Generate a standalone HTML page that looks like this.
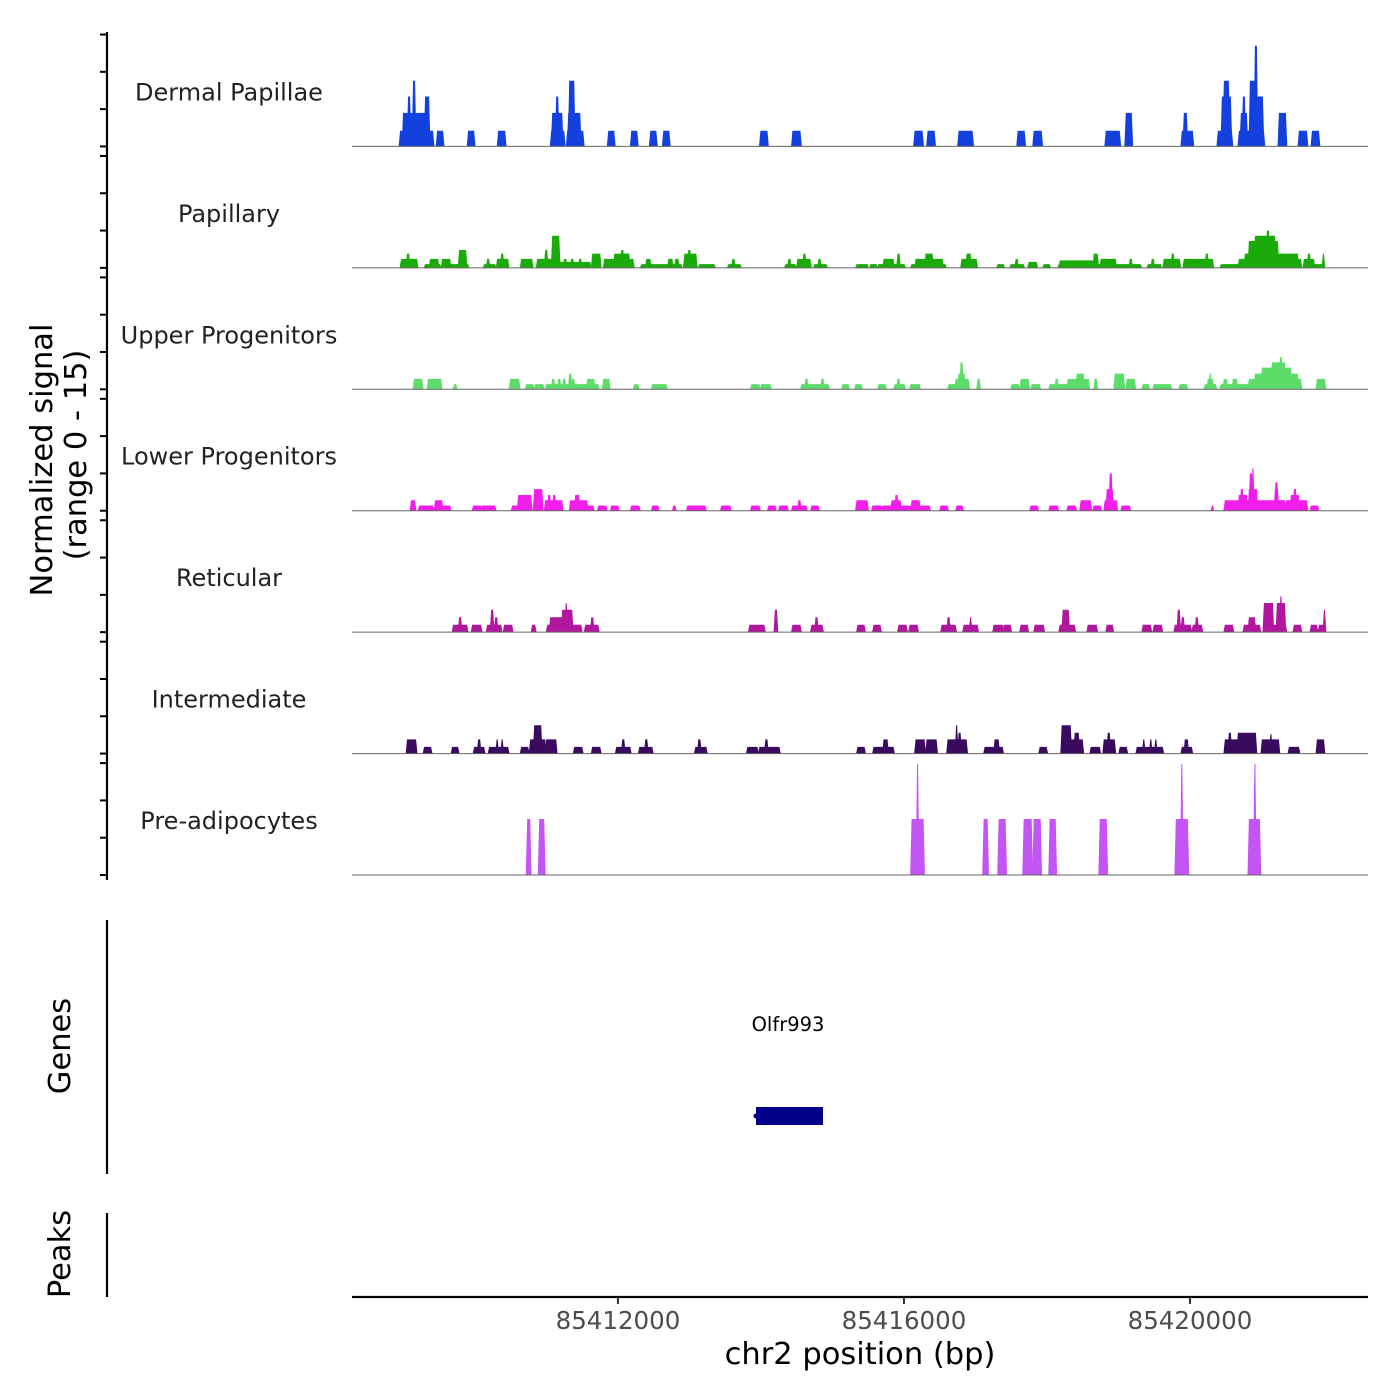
<!DOCTYPE html>
<html><head><meta charset="utf-8"><style>
html,body{margin:0;padding:0;background:#fff;}
svg{display:block;font-family:"DejaVu Sans","Liberation Sans",sans-serif;}
</style></head><body>
<svg id="chart" width="1400" height="1400" viewBox="0 0 1400 1400" xmlns="http://www.w3.org/2000/svg">
<rect width="1400" height="1400" fill="#fff"/>
<g id="tracks"></g>
<g id="axes">
  <line x1="107" y1="32" x2="107" y2="880" stroke="#000" stroke-width="2.2"/>
  <line x1="107" y1="920" x2="107" y2="1174" stroke="#000" stroke-width="2.2"/>
  <line x1="107" y1="1213" x2="107" y2="1297" stroke="#000" stroke-width="2.2"/>
  <text transform="translate(52,460) rotate(-90)" text-anchor="middle" font-size="30.5" fill="#000">Normalized signal</text>
  <text transform="translate(86,455) rotate(-90)" text-anchor="middle" font-size="30.5" fill="#000">(range 0 - 15)</text>
  <text transform="translate(70,1046) rotate(-90)" text-anchor="middle" font-size="30.5" fill="#000">Genes</text>
  <text transform="translate(70,1254) rotate(-90)" text-anchor="middle" font-size="30.5" fill="#000">Peaks</text>
  <line x1="352" y1="1297" x2="1368" y2="1297" stroke="#000" stroke-width="2.2"/>
  <text x="860" y="1364" text-anchor="middle" font-size="30.5" fill="#000">chr2 position (bp)</text>
</g>
<g id="gene">
  <text x="788" y="1031" text-anchor="middle" font-size="19.5" fill="#000">Olfr993</text>
  <rect x="756" y="1107" width="67" height="18" fill="#00008b"/>
  <circle cx="756" cy="1116" r="2.5" fill="#00008b"/>
</g>
</svg>
<script>
const regionStart = 85408280;
const regionEnd = 85422490;
const xTicks = [85412000, 85416000, 85420000];
const yTickValues = [0, 5, 10, 15];
const trackNames = ["Dermal Papillae","Papillary","Upper Progenitors","Lower Progenitors","Reticular","Intermediate","Pre-adipocytes"];
const trackColors = ["#1440dd","#1aaa0a","#5ddc6a","#f01ee8","#b0169e","#3a0a5e","#c455f5"];
// each block: [startOffsetBp, endOffsetBp, normalizedSignal]
const dermal = [[672,1134,2.1],[714,770,4.5],[784,812,6.7],[854,882,8.8],[770,1078,4.5],[1022,1078,6.7],[1190,1274,2.1],[1624,1708,2.1],[2044,2142,2.1],[2786,2968,2.1],[2800,2940,4.5],[2856,2884,6.7],[3010,3234,2.1],[3024,3192,4.5],[3038,3108,8.8],[3584,3668,2.1],[3906,3990,2.1],[4172,4256,2.1],[4354,4438,2.1],[5712,5810,2.1],[6160,6272,2.1],[7868,7980,2.1],[8050,8148,2.1],[8484,8680,2.1],[9310,9408,2.1],[9534,9646,2.1],[10542,10738,2.1],[10822,10906,4.5],[11606,11760,2.1],[11634,11676,4.5],[12110,12306,2.1],[12166,12292,6.7],[12194,12264,8.8],[12404,12754,2.1],[12432,12516,4.5],[12460,12488,6.7],[12572,12740,6.7],[12558,12656,8.8],[12628,12656,13.5],[12964,13062,4.5],[13244,13356,2.1],[13426,13524,2.1]];
const papillary = [[686,910,1.2],[770,798,1.9],[1022,1232,0.5],[1092,1204,1.2],[1260,1484,0.5],[1260,1372,1.2],[1484,1624,0.5],[1498,1596,2.4],[1848,2002,0.5],[1890,1918,1.2],[2030,2184,1.2],[2086,2114,1.9],[2366,2520,1.2],[2590,2800,1.2],[2702,2730,2.4],[2800,2898,4.3],[2898,3332,0.8],[2968,2996,1.2],[3066,3094,1.2],[3178,3206,1.2],[3360,3472,1.9],[3528,3934,1.2],[3668,3878,1.9],[3766,3794,2.4],[4046,4326,0.5],[4116,4172,1.2],[4326,4606,0.5],[4424,4480,1.2],[4522,4564,1.2],[4648,4816,1.9],[4704,4732,2.4],[4858,5068,0.5],[5264,5432,0.5],[5320,5348,1.2],[6062,6202,0.5],[6104,6132,1.2],[6230,6412,1.2],[6314,6342,1.9],[6468,6636,0.5],[6524,6552,1.2],[7056,7210,0.5],[7252,7336,0.5],[7364,7728,0.5],[7434,7574,1.2],[7630,7658,1.9],[7826,8302,0.5],[7882,8260,1.2],[8022,8120,1.9],[8526,8736,1.2],[8596,8652,1.9],[9030,9114,0.5],[9212,9394,0.5],[9282,9310,1.2],[9464,9576,0.8],[9674,9758,0.5],[9884,10766,0.5],[9898,10360,1.0],[10374,10430,1.9],[10472,10682,1.2],[10738,11032,0.5],[10878,10906,1.2],[11130,11312,0.5],[11186,11214,1.2],[11354,11578,1.2],[11466,11494,1.9],[11634,11858,1.2],[11858,12040,1.2],[11942,11970,1.9],[12152,12404,0.5],[12404,13272,1.2],[12488,13230,1.9],[12544,12950,3.6],[12628,12908,4.3],[12796,12824,5.0],[13314,13454,1.2],[13370,13398,1.9],[13454,13594,0.5],[13580,13594,1.9]];
const upperProg = [[868,980,1.4],[1064,1246,1.4],[1428,1456,0.7],[2212,2338,1.4],[2436,2534,0.7],[2562,2674,0.7],[2716,3150,0.7],[2800,2828,1.4],[2884,2912,1.4],[2954,2982,1.4],[3080,3108,1.4],[3038,3066,2.1],[3150,3444,0.7],[3290,3388,1.4],[3514,3598,1.4],[3948,4004,0.7],[4200,4396,0.7],[5586,5698,0.7],[5726,5852,0.7],[6286,6664,0.7],[6342,6370,1.4],[6566,6594,1.4],[6860,6944,0.7],[7042,7126,0.7],[7364,7462,0.7],[7588,7728,0.7],[7630,7658,1.4],[7812,7938,0.7],[8344,8624,0.7],[8442,8624,1.4],[8484,8568,2.1],[8512,8540,3.6],[8750,8778,1.4],[9226,9324,0.7],[9352,9464,1.4],[9506,9618,0.7],[9758,10038,0.7],[9842,9870,1.4],[10010,10038,1.4],[10038,10304,1.4],[10136,10234,2.1],[10388,10416,1.4],[10668,10794,2.1],[10836,10948,1.4],[11060,11144,0.7],[11214,11452,0.7],[11578,11676,0.7],[11928,12082,0.7],[11970,12040,1.4],[11998,12012,2.1],[12152,12544,0.7],[12194,12236,1.4],[12320,12376,1.4],[12544,13272,1.4],[12628,13230,2.1],[12726,13132,2.9],[12866,13048,3.6],[12978,13006,4.3],[13496,13608,1.4]];
const lowerProg = [[826,882,1.4],[938,1134,0.7],[1162,1260,1.4],[1260,1372,0.7],[1694,1806,0.7],[1820,2002,0.7],[2240,2352,0.7],[2324,2506,2.1],[2548,2660,2.9],[2702,2940,1.4],[2744,2772,2.1],[2814,2842,2.1],[3052,3290,1.4],[3122,3178,2.1],[3290,3374,0.7],[3444,3556,0.7],[3626,3724,0.7],[3906,4018,0.7],[4200,4284,0.7],[4494,4522,0.7],[4690,4942,0.7],[5166,5292,0.7],[5586,5698,0.7],[5824,5922,0.7],[5978,6090,0.7],[6160,6356,0.7],[6244,6272,1.4],[6426,6524,0.7],[7056,7210,1.4],[7280,7406,0.7],[7420,7812,0.7],[7546,7672,1.4],[7602,7630,2.1],[7826,7938,1.4],[7952,8078,0.7],[8232,8330,0.7],[8456,8540,0.7],[9492,9590,0.7],[9758,9870,0.7],[10010,10122,0.7],[10192,10332,1.4],[10374,10472,0.7],[10528,10696,1.4],[10556,10640,2.9],[10598,10626,5.0],[10766,10878,0.7],[12026,12040,0.7],[12208,12334,1.4],[12334,12810,1.4],[12404,12516,2.1],[12432,12460,2.9],[12544,12656,2.9],[12558,12586,5.0],[12593,12607,5.7],[12810,13048,1.4],[12908,12950,2.9],[12915,12943,3.8],[13062,13356,1.4],[13132,13244,2.1],[13174,13202,2.9],[13412,13510,0.7]];
const reticular = [[1414,1610,1.0],[1498,1526,2.0],[1680,1806,1.0],[1890,2086,1.0],[1946,1974,3.0],[2002,2030,2.0],[2128,2240,1.0],[2520,2562,1.0],[2730,2968,1.0],[2772,2940,2.0],[2940,3080,3.0],[2989,3003,3.9],[3094,3206,1.0],[3262,3444,1.0],[3346,3374,2.0],[5558,5768,1.0],[5915,5943,3.0],[6160,6272,1.0],[6426,6580,1.0],[6482,6510,2.0],[7070,7168,1.0],[7294,7392,1.0],[7644,7756,1.0],[7798,7910,1.0],[8246,8442,1.0],[8330,8358,2.0],[8554,8750,1.0],[8645,8659,2.0],[8974,9100,1.0],[9114,9212,1.0],[9352,9450,1.0],[9548,9674,1.0],[9898,10108,1.0],[9940,10024,3.0],[10290,10416,1.0],[10556,10640,1.0],[11060,11172,1.0],[11214,11326,1.0],[11508,11732,1.0],[11550,11578,3.0],[11606,11634,2.0],[11760,11886,1.0],[11802,11830,2.0],[12208,12320,1.0],[12474,12698,1.0],[12544,12628,2.0],[12754,12880,3.9],[12880,13062,1.0],[12936,13048,3.9],[12985,12999,4.8],[13174,13272,1.0],[13412,13496,1.0],[13524,13608,1.0],[13594,13608,3.0]];
const intermediate = [[770,896,1.9],[1008,1106,0.9],[1400,1484,0.9],[1708,1848,0.9],[1764,1792,1.9],[1918,2184,0.9],[2023,2037,1.9],[2093,2107,1.9],[2366,2464,0.9],[2492,2702,1.9],[2548,2646,3.8],[2716,2856,1.9],[3108,3220,0.9],[3360,3472,0.9],[3696,3892,0.9],[3780,3808,1.9],[4018,4200,0.9],[4102,4130,1.9],[4802,4956,0.9],[4844,4872,1.9],[5530,5670,0.9],[5698,5880,0.9],[5782,5810,1.9],[5880,5978,0.9],[7070,7168,0.9],[7294,7574,0.9],[7434,7490,1.9],[7882,8008,1.9],[8036,8176,1.9],[8330,8596,1.9],[8449,8463,3.8],[8484,8512,2.8],[8848,9100,0.9],[8988,9044,1.9],[9618,9716,0.9],[9926,10052,3.8],[10038,10220,1.9],[10108,10164,2.8],[10332,10458,0.9],[10514,10668,1.9],[10570,10598,2.8],[10738,10836,0.9],[10976,11340,0.9],[11067,11081,1.9],[11165,11179,1.9],[11235,11249,1.9],[11606,11746,0.9],[11648,11690,1.9],[12208,12390,1.9],[12264,12292,2.8],[12390,12642,2.8],[12726,12964,1.9],[12845,12859,2.6],[13104,13244,0.9],[13496,13594,1.9]];
const preadipo = [[2450,2492,7.5],[2618,2688,7.5],[7826,7994,7.5],[7903,7917,14.9],[8834,8890,7.5],[9044,9142,7.5],[9394,9506,7.5],[9534,9632,7.5],[9758,9842,7.5],[10458,10556,7.5],[11522,11690,7.5],[11599,11613,14.9],[12544,12698,7.5],[12621,12635,14.9]];
const trackData = [dermal, papillary, upperProg, lowerProg, reticular, intermediate, preadipo];

const NS = "http://www.w3.org/2000/svg";
const plotLeft = 352, plotRight = 1368;
function xScale(bp){ return plotLeft + (bp - regionStart) / (regionEnd - regionStart) * (plotRight - plotLeft); }
function xOff(off){ return xScale(regionStart + off); }
const trackTop = 25, trackH = 121.43, pxPerUnit = 7.46;
function baseline(i){ return trackTop + (i + 1) * trackH; }
function yScale(i, v){ return baseline(i) - v * pxPerUnit; }
function mk(tag, attrs, parent){ const e = document.createElementNS(NS, tag); for (const k in attrs) e.setAttribute(k, attrs[k]); parent.appendChild(e); return e; }

const tracks = document.getElementById('tracks');
const axes = document.getElementById('axes');
trackData.forEach((blocks, i) => {
  const g = mk('g', {}, tracks);
  
  
  const b = baseline(i);
  blocks.forEach(bl => {
    const x1 = xOff(bl[0]), x2 = xOff(bl[1]), y = yScale(i, bl[2]);
    const p = mk('polygon', {points: (x1-1.4)+','+b+' '+x1+','+y+' '+x2+','+y+' '+(x2+1.4)+','+b, fill: trackColors[i]}, g);
    
    
  });
  const bl = mk('line', {x1: plotLeft, x2: plotRight, y1: b, y2: b, stroke: '#666', 'stroke-width': 1}, g);
  
  
  const lab = mk('text', {x: 229, y: b - 46, 'text-anchor': 'middle', 'font-size': 24, fill: '#222'}, g);
  lab.textContent = trackNames[i];
  
  
  yTickValues.forEach(v => {
    const yy = yScale(i, v);
    const t = mk('line', {x1: 100, x2: 107, y1: yy, y2: yy, stroke: '#000', 'stroke-width': 2}, axes);
    
    
  });
});
xTicks.forEach(v => {
  const x = xScale(v);
  const t = mk('line', {x1: x, x2: x, y1: 1297, y2: 1304, stroke: '#333', 'stroke-width': 2}, axes);
  
  
  const l = mk('text', {x: x, y: 1329, 'text-anchor': 'middle', 'font-size': 24.5, fill: '#4d4d4d'}, axes);
  l.textContent = String(v);
  
  
});
</script>
</body></html>
